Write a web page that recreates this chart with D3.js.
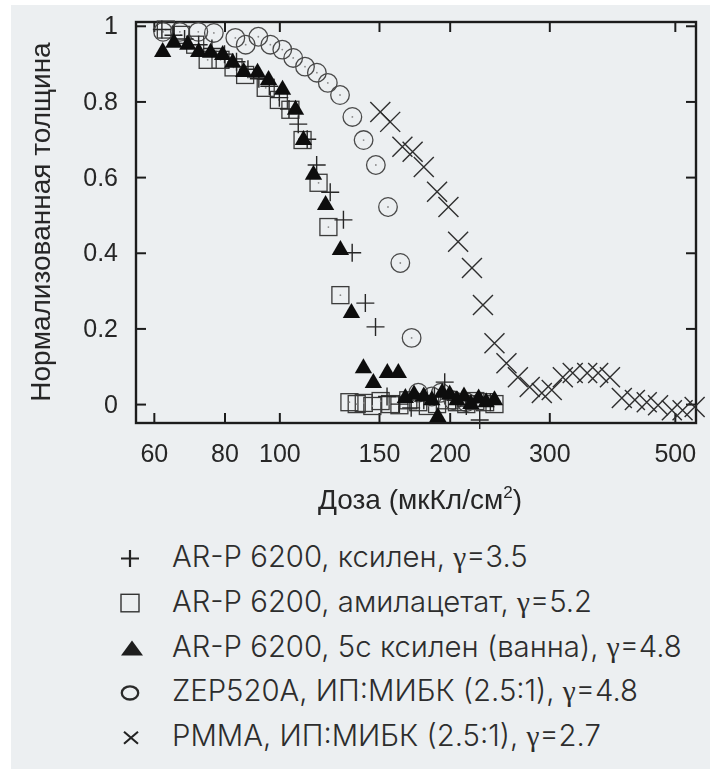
<!DOCTYPE html>
<html>
<head>
<meta charset="utf-8">
<script src="https://cdn.jsdelivr.net/npm/d3@7"></script>
<style>
  html, body { margin: 0; padding: 0; background: #ffffff; }
  svg { display: block; }
</style>
</head>
<body>
<svg id="chart" width="716" height="769"></svg>
<script>
// ---- Data: dose (мкКл/см²) and normalised thickness per resist/developer ----
const xTickValues = [60, 80, 100, 150, 200, 300, 500];
const yTickValues = [0, 0.2, 0.4, 0.6, 0.8, 1];

const legendNames = [
  "AR-P 6200, ксилен, ",
  "AR-P 6200, амилацетат, ",
  "AR-P 6200, 5с ксилен (ванна), ",
  "ZEP520A, ИП:МИБК (2.5:1), ",
  "PMMA, ИП:МИБК (2.5:1), "
];
const legendGamma = ["3.5", "5.2", "4.8", "4.8", "2.7"];

// AR-P 6200, xylene (+)
const xyleneDose  = [62, 65, 68, 72, 76, 80, 84, 88, 92, 96, 100, 104, 108, 112, 116.4, 123, 129.8, 134.5, 141.9, 147.9, 155, 163, 171, 180, 188, 196, 205, 214, 226, 236];
const xyleneThick = [0.99, 0.975, 0.965, 0.95, 0.94, 0.925, 0.905, 0.885, 0.86, 0.84, 0.81, 0.78, 0.74, 0.70, 0.632, 0.56, 0.487, 0.40, 0.267, 0.204, 0.02, 0.0, -0.01, 0.01, 0.02, 0.058, 0.01, -0.005, -0.042, 0.005];

// AR-P 6200, amyl acetate (□)
const amylDose  = [63, 67, 71, 74.7, 78.7, 83, 87, 94.6, 99.8, 104.6, 109.9, 117.3, 122.1, 128.2, 133, 137, 141, 146, 151, 157, 163, 169, 176, 183, 190, 198, 206, 214, 222, 231, 240];
const amylThick = [0.99, 0.976, 0.95, 0.91, 0.91, 0.89, 0.87, 0.836, 0.804, 0.778, 0.698, 0.585, 0.468, 0.288, 0.005, 0.0, 0.003, -0.005, 0.008, 0.0, -0.003, 0.01, 0.005, -0.005, 0.0, 0.01, 0.005, 0.0, 0.008, 0.005, 0.0];

// AR-P 6200, 5 s xylene bath (▲)
const bathDose  = [62.2, 65.1, 68.9, 72.0, 75.6, 79.4, 82.7, 86.5, 91.5, 95.7, 101.3, 106.8, 110.3, 114.9, 120.7, 128.2, 134.1, 140.8, 146.6, 155.2, 162.3, 167, 173, 180, 186, 190.6, 194, 200, 206, 212, 218, 225, 232, 240];
const bathThick = [0.931, 0.955, 0.95, 0.931, 0.929, 0.923, 0.902, 0.878, 0.876, 0.857, 0.831, 0.778, 0.698, 0.606, 0.526, 0.407, 0.241, 0.095, 0.056, 0.082, 0.082, 0.016, 0.025, 0.02, 0.01, -0.034, 0.03, 0.025, 0.01, 0.02, 0.0, 0.015, 0.005, 0.01];

// ZEP520A, IPA:MIBK (○)
const zepDose  = [62.3, 66.7, 71.9, 76.6, 83.6, 87.2, 91.8, 96.4, 101.2, 105.8, 111.0, 116.5, 121.8, 128.0, 134.6, 140.9, 148.1, 155.6, 163.6, 171.3, 176, 186, 193, 203, 214];
const zepThick = [0.984, 0.984, 0.984, 0.981, 0.968, 0.95, 0.971, 0.950, 0.937, 0.915, 0.892, 0.876, 0.849, 0.817, 0.759, 0.698, 0.632, 0.521, 0.373, 0.175, 0.03, 0.02, 0.03, 0.01, 0.005];

// PMMA, IPA:MIBK (×)
const pmmaDose  = [150.8, 157, 165, 172, 180, 190, 199, 207, 219, 229, 240, 252, 264, 277, 291, 303, 317, 330, 350, 366, 384, 403, 425, 446, 467, 494, 516, 542];
const pmmaThick = [0.772, 0.746, 0.680, 0.667, 0.627, 0.561, 0.521, 0.429, 0.360, 0.262, 0.161, 0.108, 0.071, 0.045, 0.029, 0.037, 0.071, 0.082, 0.082, 0.082, 0.071, 0.016, 0.011, 0.005, -0.003, -0.016, -0.016, -0.008];

// ---- Layout ----
const svg = d3.select("#chart");
const plot = { left: 136, right: 696, top: 22, bottom: 423 };
const ink = "#1e1e1e";
const axisFont = "'Liberation Sans', Arial, sans-serif";

svg.append("defs").append("filter")
  .attr("id", "soft").attr("x", "-5%").attr("y", "-5%").attr("width", "110%").attr("height", "110%")
  .append("feGaussianBlur").attr("stdDeviation", 0.45);

svg.append("rect")
  .attr("x", 11).attr("y", 5).attr("width", 699).attr("height", 764)
  .attr("fill", "#eceff1");

// the printed graph is slightly soft; the legend below it is crisp
const chart = svg.append("g").attr("filter", "url(#soft)");

const x = d3.scaleLog().domain([55.8, 545]).range([plot.left, plot.right]);
const y = d3.scaleLinear().domain([-0.05, 1.01]).range([plot.bottom, plot.top]);

const zip = (a, b) => a.map((d, i) => [d, b[i]]);

// ---- Axes (inward ticks, mirrored on top/right) ----
function styleAxis(g) {
  g.select(".domain").remove();
  g.selectAll(".tick line").attr("stroke", ink).attr("stroke-width", 2);
  g.selectAll(".tick text")
    .attr("fill", "#262626")
    .style("font-family", axisFont)
    .style("font-size", "25px");
}

chart.append("g")
  .attr("transform", `translate(0,${plot.bottom})`)
  .call(d3.axisBottom(x).tickValues(xTickValues).tickFormat(d3.format("d"))
        .tickSize(-10).tickSizeOuter(0).tickPadding(21))
  .call(styleAxis);

chart.append("g")
  .attr("transform", `translate(0,${plot.top})`)
  .call(d3.axisTop(x).tickValues(xTickValues).tickFormat("")
        .tickSize(-10).tickSizeOuter(0))
  .call(styleAxis);

chart.append("g")
  .attr("transform", `translate(${plot.left},0)`)
  .call(d3.axisLeft(y).tickValues(yTickValues).tickFormat(d3.format("~g"))
        .tickSize(-10).tickSizeOuter(0).tickPadding(18))
  .call(styleAxis);

chart.append("g")
  .attr("transform", `translate(${plot.right},0)`)
  .call(d3.axisRight(y).tickValues(yTickValues).tickFormat("")
        .tickSize(-10).tickSizeOuter(0))
  .call(styleAxis);

// Frame
chart.append("rect")
  .attr("x", plot.left).attr("y", plot.top)
  .attr("width", plot.right - plot.left).attr("height", plot.bottom - plot.top)
  .attr("fill", "none").attr("stroke", ink).attr("stroke-width", 2.4);

// Axis titles
const xTitle = chart.append("text")
  .attr("x", 420).attr("y", 509)
  .attr("text-anchor", "middle")
  .attr("fill", "#262626")
  .style("font-family", axisFont).style("font-size", "28px");
xTitle.append("tspan").text("Доза (мкКл/см");
xTitle.append("tspan").attr("dy", -11).style("font-size", "17px").text("2");
xTitle.append("tspan").attr("dy", 11).text(")");

chart.append("text")
  .attr("transform", "translate(50,222) rotate(-90)")
  .attr("text-anchor", "middle")
  .attr("fill", "#262626")
  .style("font-family", axisFont).style("font-size", "28px")
  .text("Нормализованная толщина");

// ---- Markers ----
const markers = chart.append("g");

// circles (ZEP520A)
const zepG = markers.append("g");
zepG.selectAll("circle.ring").data(zip(zepDose, zepThick)).join("circle")
  .attr("class", "ring")
  .attr("cx", d => x(d[0])).attr("cy", d => y(d[1])).attr("r", 9.3)
  .attr("fill", "none").attr("stroke", "#4a4a4a").attr("stroke-width", 1.3);
zepG.selectAll("circle.dot").data(zip(zepDose, zepThick)).join("circle")
  .attr("class", "dot")
  .attr("cx", d => x(d[0])).attr("cy", d => y(d[1])).attr("r", 0.9)
  .attr("fill", "#888");

// squares (amyl acetate)
const amylG = markers.append("g");
amylG.selectAll("rect").data(zip(amylDose, amylThick)).join("rect")
  .attr("x", d => x(d[0]) - 8.5).attr("y", d => y(d[1]) - 8.5)
  .attr("width", 17).attr("height", 17)
  .attr("fill", "none").attr("stroke", "#3a3a3a").attr("stroke-width", 1.3);
amylG.selectAll("circle").data(zip(amylDose, amylThick)).join("circle")
  .attr("cx", d => x(d[0])).attr("cy", d => y(d[1])).attr("r", 0.9)
  .attr("fill", "#888");

// plus (xylene)
markers.append("g").selectAll("path").data(zip(xyleneDose, xyleneThick)).join("path")
  .attr("transform", d => `translate(${x(d[0])},${y(d[1])})`)
  .attr("d", "M-9,0H9M0,-9V9")
  .attr("stroke", "#262626").attr("stroke-width", 1.4).attr("fill", "none");

// triangles (xylene bath)
const tri = d3.symbol().type(d3.symbolTriangle).size(130);
markers.append("g").selectAll("path").data(zip(bathDose, bathThick)).join("path")
  .attr("transform", d => `translate(${x(d[0])},${y(d[1])})`)
  .attr("d", tri)
  .attr("fill", "#111");

// crosses (PMMA)
markers.append("g").selectAll("path").data(zip(pmmaDose, pmmaThick)).join("path")
  .attr("transform", d => `translate(${x(d[0])},${y(d[1])})`)
  .attr("d", "M-10,-10L10,10M-10,10L10,-10")
  .attr("stroke", "#2e2e2e").attr("stroke-width", 1.4).attr("fill", "none");

// ---- Legend ----
const legendFont = "Inter, 'Open Sans', sans-serif";
const legendTop = 567, legendStep = 44.8, legendTextX = 172, legendSymX = 130;
const legend = svg.append("g");

const legendTexts = legendNames.map((name, i) => {
  const t = legend.append("text")
    .attr("x", legendTextX).attr("y", legendTop + i * legendStep)
    .attr("fill", "#2d2d2d")
    .style("font-family", legendFont).style("font-weight", 300)
    .style("font-size", "23px");
  t.append("tspan").text(name);
  t.append("tspan").style("font-family", "'Liberation Serif', 'DejaVu Serif', serif").text("γ");
  t.append("tspan").text("=" + legendGamma[i]);
  return t;
});
// fit the legend width
const longest = d3.max(legendTexts, t => t.node().getComputedTextLength());
const fitted = 23 * 510 / longest;
legendTexts.forEach(t => t.style("font-size", fitted + "px"));

const symY = i => legendTop + i * legendStep - 8.5;
legend.append("path")
  .attr("transform", `translate(${legendSymX},${symY(0)})`)
  .attr("d", "M-9,0H9M0,-8.5V8.5")
  .attr("stroke", "#222").attr("stroke-width", 2.2);
legend.append("rect")
  .attr("x", legendSymX - 9).attr("y", symY(1) - 9)
  .attr("width", 18).attr("height", 17.5)
  .attr("fill", "none").attr("stroke", "#333").attr("stroke-width", 1.4);
legend.append("path")
  .attr("transform", `translate(${legendSymX + 2},${symY(2)})`)
  .attr("d", "M-11,7.5L11,7.5L0,-7.5Z")
  .attr("fill", "#1e1e1e");
legend.append("ellipse")
  .attr("cx", legendSymX).attr("cy", symY(3))
  .attr("rx", 8.2).attr("ry", 6.6)
  .attr("fill", "none").attr("stroke", "#2a2a2a").attr("stroke-width", 2.3);
legend.append("path")
  .attr("transform", `translate(${legendSymX + 1},${symY(4)})`)
  .attr("d", "M-7,-6L7,6M-7,6L7,-6")
  .attr("stroke", "#222").attr("stroke-width", 2.1);
</script>
</body>
</html>
